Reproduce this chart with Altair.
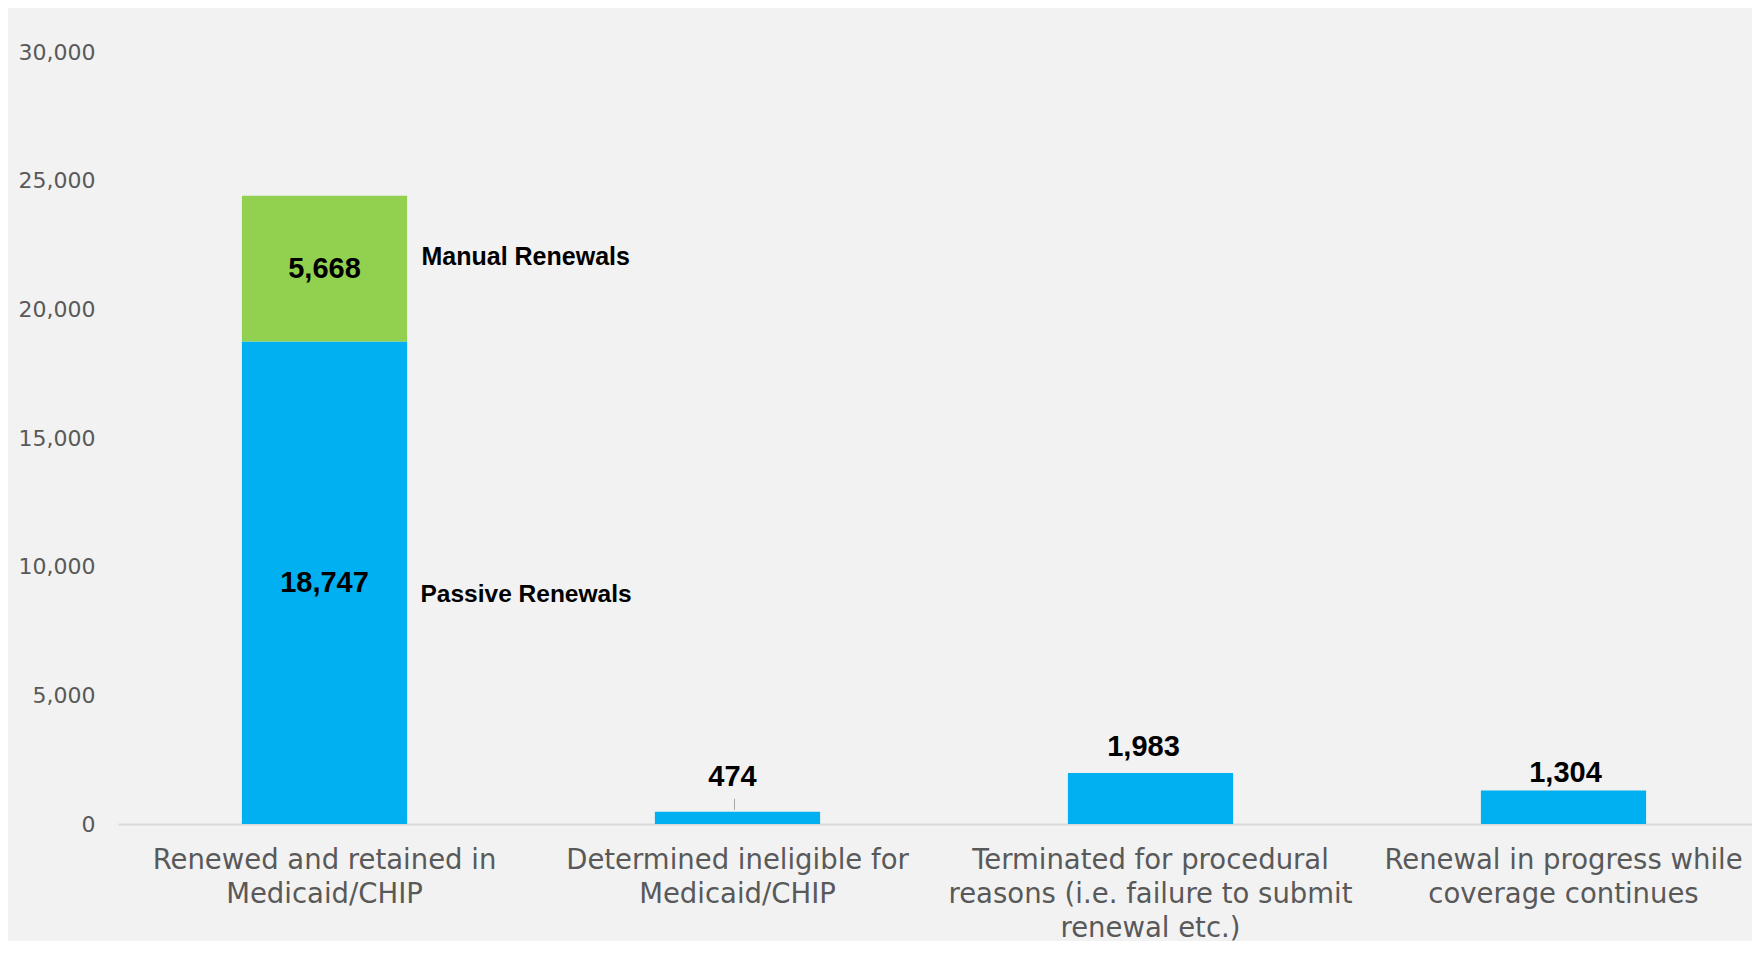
import json
import altair as alt
import pandas as pd

# ---- data ----
categories = [
    "Renewed and retained in Medicaid/CHIP",
    "Determined ineligible for Medicaid/CHIP",
    "Terminated for procedural reasons (i.e. failure to submit renewal etc.)",
    "Renewal in progress while coverage continues",
]
category_lines = [
    ["Renewed and retained in", "Medicaid/CHIP"],
    ["Determined ineligible for", "Medicaid/CHIP"],
    ["Terminated for procedural", "reasons (i.e. failure to submit", "renewal etc.)"],
    ["Renewal in progress while", "coverage continues"],
]
series_names = ["Passive Renewals", "Manual Renewals"]
base_values = [18747, 474, 1983, 1304]          # blue segment
manual_values = [5668, None, None, None]        # green segment
y_ticks = [0, 5000, 10000, 15000, 20000, 25000, 30000]

BLUE = "#00B0F0"
GREEN = "#92D050"
AXIS_GRAY = "#595959"

rows = []
for c, b, m in zip(categories, base_values, manual_values):
    rows.append({"category": c, "series": series_names[0], "value": b, "order": 0})
    if m is not None:
        rows.append({"category": c, "series": series_names[1], "value": m, "order": 1})
df = pd.DataFrame(rows)

label_expr = " : ".join(
    f"datum.value === {json.dumps(c)} ? {json.dumps(lines)}"
    for c, lines in zip(categories, category_lines)
) + " : datum.label"

x_enc = alt.X(
    "category:N",
    sort=categories,
    scale=alt.Scale(domain=categories, range=[0, 1652], paddingInner=0.6, paddingOuter=0.3),
    axis=alt.Axis(
        title=None,
        labelAngle=0,
        labelExpr=label_expr,
        labelFont="DejaVu Sans",
        labelFontSize=27.5,
        labelLineHeight=34,
        labelColor=AXIS_GRAY,
        labelPadding=22,
        labelLimit=1000,
        ticks=False,
        domainColor="#D9D9D9",
        domainWidth=2,
        grid=False,
    ),
)

y_axis = alt.Axis(
    title=None,
    values=y_ticks,
    format=",d",
    labelExpr="format(datum.value, ',d')",
    labelFont="DejaVu Sans",
    labelFontSize=22,
    labelColor=AXIS_GRAY,
    labelPadding=23,
    ticks=False,
    domain=False,
    grid=False,
)
y_scale = alt.Scale(domain=[0, 30000], nice=False)

base = alt.Chart(df).transform_stack(
    stack="value",
    groupby=["category"],
    as_=["y0", "y1"],
    sort=[alt.SortField("order", order="ascending")],
).transform_calculate(mid="(datum.y0 + datum.y1) / 2")

bars = base.mark_bar().encode(
    x=x_enc,
    y=alt.Y("y0:Q", scale=y_scale, axis=y_axis),
    y2="y1:Q",
    color=alt.Color("series:N", scale=alt.Scale(domain=series_names, range=[BLUE, GREEN]), legend=None),
)

label_font = dict(font="Liberation Sans", fontWeight="bold", color="#000000")

inner_labels = base.transform_filter(
    alt.datum.category == categories[0]
).mark_text(fontSize=29, baseline="middle", **label_font).encode(
    x=alt.X("category:N", sort=categories),
    y=alt.Y("mid:Q", scale=y_scale, axis=y_axis),
    text=alt.Text("value:Q", format=","),
)

manual_name = base.transform_filter(
    (alt.datum.category == categories[0]) & (alt.datum.series == series_names[1])
).mark_text(fontSize=25, align="left", baseline="middle", dx=97, dy=-12, **label_font).encode(
    x=alt.X("category:N", sort=categories),
    y=alt.Y("mid:Q", scale=y_scale, axis=y_axis),
    text="series:N",
)

passive_name = base.transform_filter(
    (alt.datum.category == categories[0]) & (alt.datum.series == series_names[0])
).mark_text(fontSize=24.5, align="left", baseline="middle", dx=96, dy=12, **label_font).encode(
    x=alt.X("category:N", sort=categories),
    y=alt.Y("mid:Q", scale=y_scale, axis=y_axis),
    text="series:N",
)

top_offsets = {1: (-5, -35), 2: (-7, -26), 3: (2, -17)}
top_labels = []
for idx, (ddx, ddy) in top_offsets.items():
    top_labels.append(
        base.transform_filter(alt.datum.category == categories[idx])
        .mark_text(fontSize=29, baseline="middle", dx=ddx, dy=ddy, **label_font)
        .encode(
            x=alt.X("category:N", sort=categories),
            y=alt.Y("y1:Q", scale=y_scale, axis=y_axis),
            text=alt.Text("value:Q", format=","),
        )
    )

leader = base.transform_filter(alt.datum.category == categories[1]).mark_rule(
    color="#A6A6A6", strokeWidth=1, xOffset=-3, yOffset=-13, y2Offset=-2
).encode(
    x=alt.X("category:N", sort=categories),
    y=alt.Y("y1:Q", scale=y_scale, axis=y_axis),
    y2="y1:Q",
)

chart = alt.layer(
    bars, inner_labels, manual_name, passive_name, leader, *top_labels
).properties(
    width=1634,
    height=772,
    autosize=alt.AutoSizeParams(type="none"),
    padding={"left": 110, "top": 44, "right": 0, "bottom": 117},
    background="#F2F2F2",
).configure_view(stroke=None)

chart.save("out.html", embed_options={"renderer": "svg", "actions": False})
